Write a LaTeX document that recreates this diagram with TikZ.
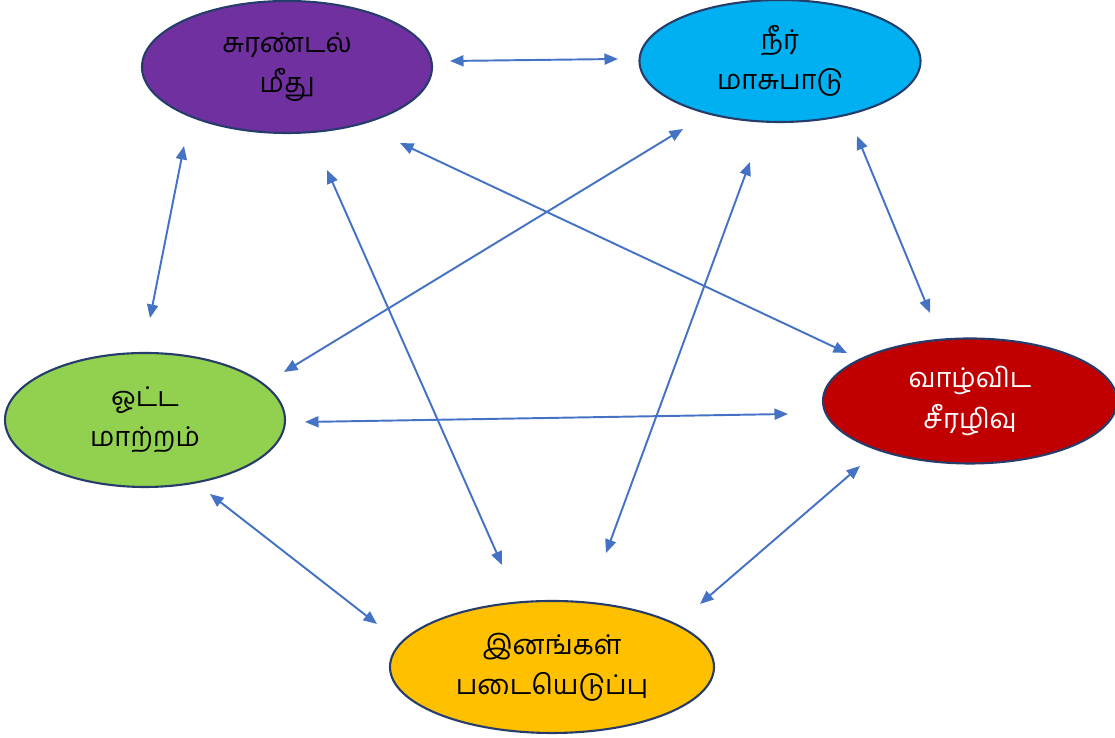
\documentclass[tikz,border=0pt]{standalone}
\usepackage{fontspec}
\newfontfamily\tamilfont[Script=Tamil]{Hind Madurai}
\usetikzlibrary{arrows.meta,shapes.geometric}
\definecolor{exploitFill}{HTML}{7030A0}
\definecolor{waterFill}{HTML}{00B0F0}
\definecolor{flowFill}{HTML}{92D050}
\definecolor{habitatFill}{HTML}{C00000}
\definecolor{invasionFill}{HTML}{FFC000}
\definecolor{threatBorder}{HTML}{263D6B}
\definecolor{linkBlue}{HTML}{4472C4}

\begin{document}
\begin{tikzpicture}[
  threat/.style={ellipse, draw=threatBorder, line width=1.2pt, inner sep=0pt,
    align=center, font=\tamilfont\fontsize{15.5}{23}\selectfont},
  link/.style={linkBlue, line width=1.1pt,
    {Triangle[length=0.27cm,width=0.22cm]}-{Triangle[length=0.27cm,width=0.22cm]}}
]
\useasboundingbox (0,0) rectangle (22.3,14.76);

\node[threat, fill=exploitFill, minimum width=5.8cm, minimum height=2.64cm] (exploit) at (5.74,13.42) {சுரண்டல்\\மீது};
\node[threat, fill=waterFill, minimum width=5.62cm, minimum height=2.44cm] (water) at (15.6,13.54) {நீர்\\மாசுபாடு};
\node[threat, fill=flowFill, minimum width=5.6cm, minimum height=2.68cm] (flow) at (2.9,6.36) {ஓட்ட\\மாற்றம்};
\node[threat, fill=habitatFill, text=white, minimum width=5.88cm, minimum height=2.5cm] (habitat) at (19.4,6.74) {வாழ்விட\\சீரழிவு};
\node[threat, fill=invasionFill, minimum width=6.48cm, minimum height=2.64cm] (invasion) at (11.04,1.42) {இனங்கள்\\படையெடுப்பு};

% arrow ends
\coordinate (ew1) at (9.0,13.54);   \coordinate (ew2) at (12.36,13.58);
\coordinate (ef1) at (3.68,11.84);  \coordinate (ef2) at (3.0,8.4);
\coordinate (ei1) at (6.54,11.36);  \coordinate (ei2) at (10.04,3.46);
\coordinate (eh1) at (8.0,11.9);    \coordinate (eh2) at (16.94,7.7);
\coordinate (wf1) at (13.66,12.18); \coordinate (wf2) at (5.68,7.32);
\coordinate (wi1) at (15.0,11.52);  \coordinate (wi2) at (12.12,3.7);
\coordinate (wh1) at (17.14,12.04); \coordinate (wh2) at (18.6,8.5);
\coordinate (fh1) at (6.1,6.32);    \coordinate (fh2) at (15.76,6.48);
\coordinate (fi1) at (4.2,4.88);    \coordinate (fi2) at (7.54,2.28);
\coordinate (ih1) at (14.0,2.68);   \coordinate (ih2) at (17.2,5.44);

\foreach \pair in {ew,ef,ei,eh,wf,wi,wh,fh,fi,ih}
  \draw[link] (\pair1) -- (\pair2);
\end{tikzpicture}
\end{document}
